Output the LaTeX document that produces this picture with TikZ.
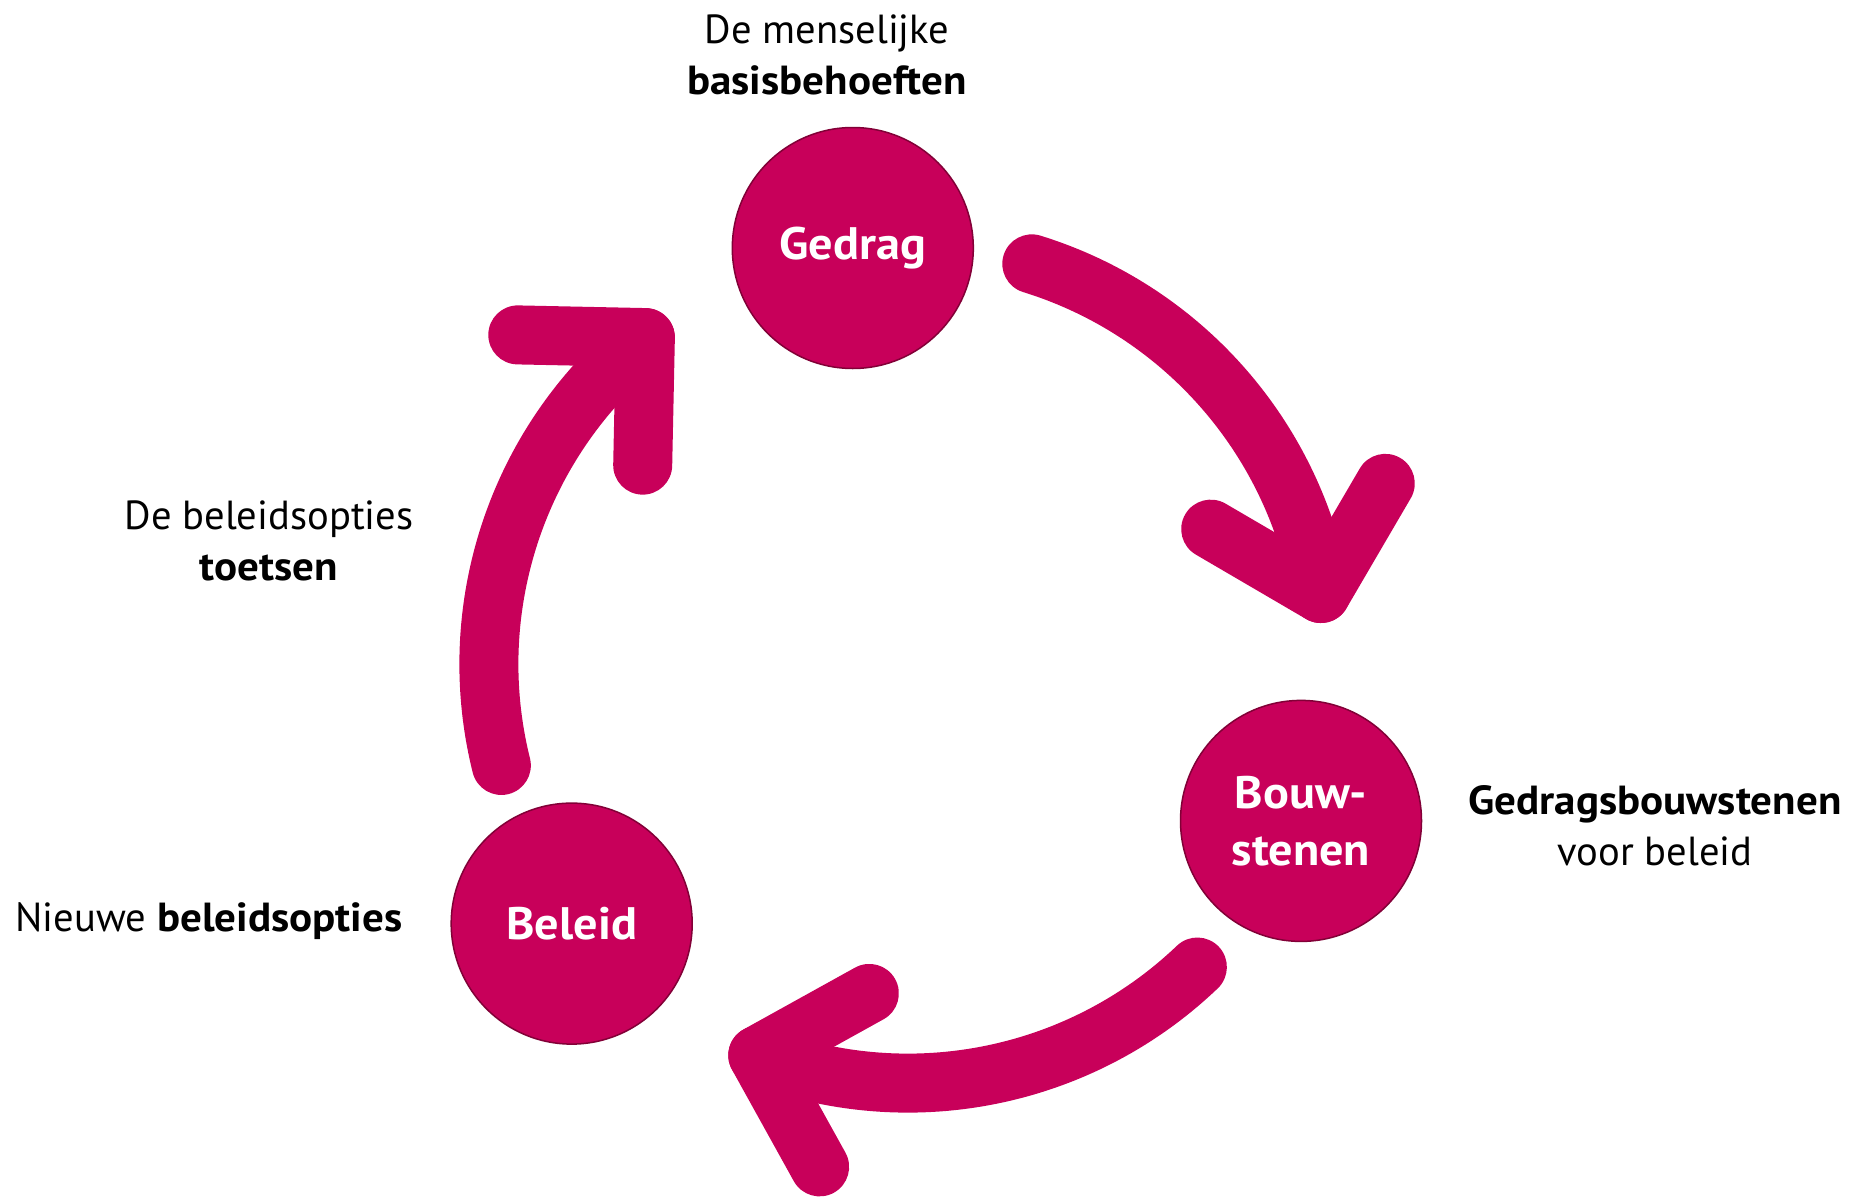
\documentclass[tikz,border=0pt]{standalone}
\usepackage{fontspec}
\setmainfont{PT Sans}[BoldFeatures={FakeStretch=1.06}]
\usetikzlibrary{calc}
\definecolor{ro}{RGB}{200,0,90}
\definecolor{roedge}{RGB}{130,0,55}
\begin{document}
\begin{tikzpicture}[x=1pt,y=1pt,
  bubble/.style={circle, fill=ro, draw=roedge, line width=1.5pt, minimum size=241pt, inner sep=0pt,
    text=white, font=\fontsize{45.5}{57}\selectfont\bfseries, align=center},
  band/.style={draw=ro, line width=59pt, line cap=round, line join=round},
  lbl/.style={font=\fontsize{40.6}{51}\selectfont, align=center, text=black, inner sep=0pt}]
\useasboundingbox (0,0) rectangle (1852,-1199);
\fill[white] (0,0) rectangle (1852,-1199);
\coordinate (C) at (907.9,-664.1);
% arrows
\coordinate (a1s) at ($(C)+(72.8:419)$);
\coordinate (a1t) at ($(C)+(9.7:419)$);
\coordinate (a2s) at ($(C)+(-46.3:419)$);
\coordinate (a2t) at ($(C)+(-111:419)$);
\coordinate (a3s) at ($(C)+(194:419)$);
\coordinate (a3t) at ($(C)+(128.8:419)$);
\draw[band] (a1s) arc[start angle=72.8, end angle=9.7, radius=419];
\draw[band] ($(a1t)+(149.7:127.6)$) -- (a1t) -- ($(a1t)+(59.7:127.6)$);
\draw[band] (a2s) arc[start angle=-46.3, end angle=-111, radius=419];
\draw[band] ($(a2t)+(29:127.6)$) -- (a2t) -- ($(a2t)+(-61:127.6)$);
\draw[band] (a3s) arc[start angle=194, end angle=128.8, radius=419];
\draw[band] ($(a3t)+(178.8:127.6)$) -- (a3t) -- ($(a3t)+(268.8:127.6)$);
% circles
\node[bubble] (gedrag) at (852.8,-248) {Gedrag};
\node[bubble] (bouw) at (1301,-820.9) {Bouw-\\stenen};
\node[bubble] (beleid) at (571.7,-923.6) {Beleid};
% labels
\node[lbl] (l1) at (827,-55) {De menselijke\\\textbf{basisbehoeften}};
\node[lbl] (l2) at (269,-541) {De beleidsopties\\\textbf{toetsen}};
\node[lbl] (l3) at (1655,-826) {\textbf{Gedragsbouwstenen}\\voor beleid};
\node[lbl] (l4) at (209,-921) {Nieuwe \textbf{beleidsopties}};
\end{tikzpicture}
\end{document}
